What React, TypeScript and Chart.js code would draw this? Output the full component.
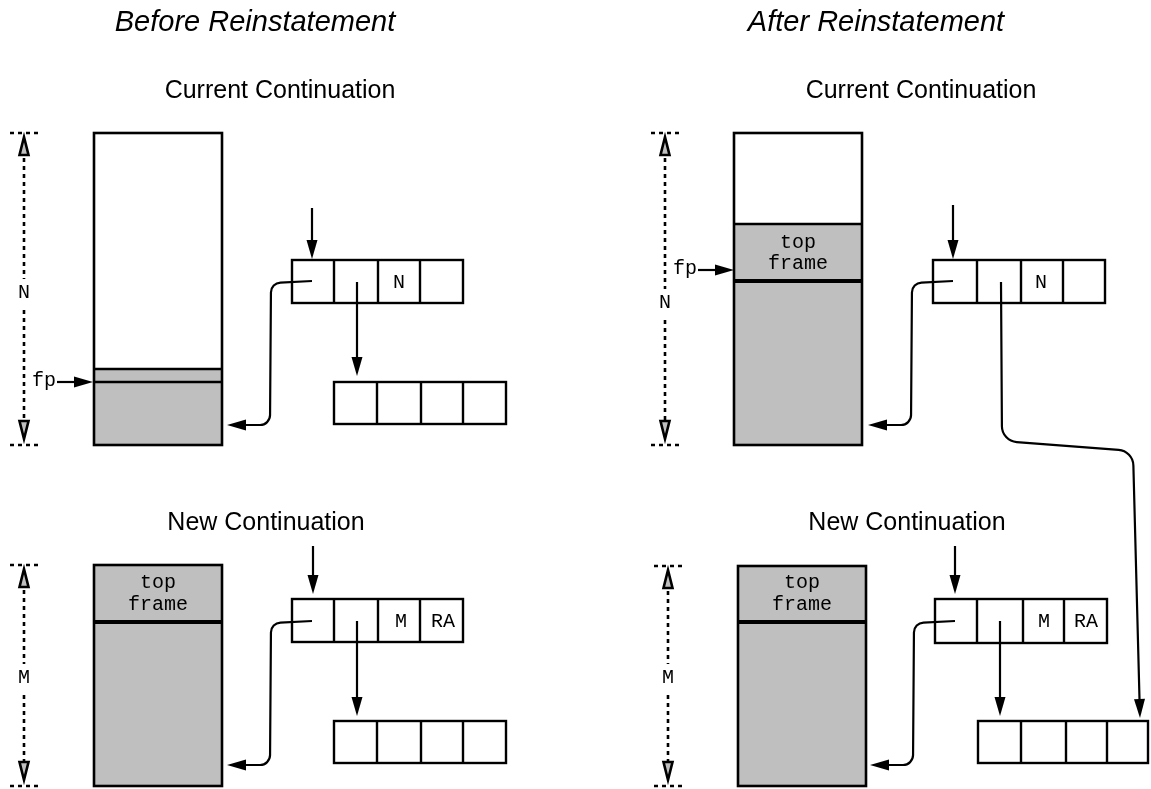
import React, { useEffect, useRef } from "react";
import { Chart, registerables } from "chart.js";

Chart.register(...registerables);

const W = 1151;
const H = 789;

// ---- data (diagram coordinates in a 0..W / 0..H value space) ----
const titles = [
  { text: "Before Reinstatement", x: 255, y: 23 },
  { text: "After Reinstatement", x: 876, y: 23 },
];
const headings = [
  { text: "Current Continuation", x: 280, y: 91 },
  { text: "Current Continuation", x: 921, y: 91 },
  { text: "New Continuation", x: 266, y: 523 },
  { text: "New Continuation", x: 907, y: 523 },
];
const stacks = [
  { x0: 94, x1: 222, y0: 133, y1: 445, gray: 369, sep: 382, sepW: 2 },
  { x0: 734, x1: 862, y0: 133, y1: 445, gray: 224, sep: 281, sepW: 4 },
  { x0: 94, x1: 222, y0: 565, y1: 786, gray: 565, sep: 622, sepW: 4 },
  { x0: 738, x1: 866, y0: 566, y1: 786, gray: 566, sep: 622, sepW: 4 },
];
const frameLabels = [
  { x: 798, y1: 243, y2: 264 },
  { x: 158, y1: 583, y2: 605 },
  { x: 802, y1: 583, y2: 605 },
];
const records = [
  { xs: [292, 334, 378, 420, 463], y0: 260, y1: 303 },
  { xs: [334, 377, 421, 463, 506], y0: 382, y1: 424 },
  { xs: [933, 977, 1021, 1063, 1105], y0: 260, y1: 303 },
  { xs: [292, 334, 378, 420, 463], y0: 599, y1: 642 },
  { xs: [334, 377, 421, 463, 506], y0: 721, y1: 763 },
  { xs: [935, 977, 1023, 1064, 1107], y0: 599, y1: 643 },
  { xs: [978, 1021, 1066, 1107, 1148], y0: 721, y1: 763 },
];
const cellLabels = [
  { t: "N", x: 399, y: 283 },
  { t: "N", x: 1041, y: 283 },
  { t: "M", x: 401, y: 622 },
  { t: "RA", x: 443, y: 622 },
  { t: "M", x: 1044, y: 622 },
  { t: "RA", x: 1086, y: 622 },
];
// polylines ending with an arrow head at the last point
const arrows: number[][][] = [
  // entry arrows
  [[312, 208], [312, 259]],
  [[953, 205], [953, 259]],
  [[313, 546], [313, 594]],
  [[955, 546], [955, 594]],
  // cell-2 pointers
  [[357, 282], [357, 376]],
  [[357, 621], [357, 716]],
  [[1000, 621], [1000, 716]],
  // links back to stacks
  [[312, 281], [271, 283], [270, 425], [227, 425]],
  [[953, 281], [912, 283], [911, 425], [868, 425]],
  [[312, 621], [271, 623], [270, 765], [227, 765]],
  [[955, 621], [914, 623], [913, 765], [870, 765]],
  // long pointer into the new continuation
  [[1001, 282], [1002, 441], [1133, 451], [1140, 718]],
  // fp arrows
  [[57, 382], [93, 382]],
  [[698, 270], [734, 270]],
];
const fpLabels = [
  { x: 44, y: 382 },
  { x: 685, y: 270 },
];
const dims = [
  { x: 24, y0: 133, y1: 445, label: "N", ly: 293 },
  { x: 665, y0: 133, y1: 445, label: "N", ly: 303 },
  { x: 24, y0: 565, y1: 786, label: "M", ly: 678 },
  { x: 668, y0: 566, y1: 786, label: "M", ly: 678 },
];

const SANS = '"Liberation Sans", Arial, sans-serif';
const MONO = '"Liberation Mono", "Courier New", monospace';
const GRAY = "#bfbfbf";

const diagramPlugin = {
  id: "diagram",
  afterDraw(chart: any) {
    const ctx: CanvasRenderingContext2D = chart.ctx;
    const xs = chart.scales.x;
    const ys = chart.scales.y;
    const px = (v: number) => xs.getPixelForValue(v);
    const py = (v: number) => ys.getPixelForValue(v);
    ctx.save();
    ctx.lineCap = "butt";
    ctx.lineJoin = "miter";

    // titles
    ctx.fillStyle = "#000";
    ctx.textAlign = "center";
    ctx.textBaseline = "middle";
    ctx.font = `italic 29px ${SANS}`;
    titles.forEach((t) => ctx.fillText(t.text, px(t.x), py(t.y)));
    ctx.font = `25px ${SANS}`;
    headings.forEach((t) => ctx.fillText(t.text, px(t.x), py(t.y)));

    // stacks
    stacks.forEach((s) => {
      const x0 = px(s.x0), x1 = px(s.x1), y0 = py(s.y0), y1 = py(s.y1);
      ctx.fillStyle = "#fff";
      ctx.fillRect(x0, y0, x1 - x0, y1 - y0);
      ctx.fillStyle = GRAY;
      ctx.fillRect(x0, py(s.gray), x1 - x0, y1 - py(s.gray));
      ctx.strokeStyle = "#000";
      ctx.lineWidth = 2.4;
      if (s.gray > s.y0) {
        ctx.beginPath();
        ctx.moveTo(x0, py(s.gray));
        ctx.lineTo(x1, py(s.gray));
        ctx.stroke();
      }
      ctx.lineWidth = s.sepW === 2 ? 2.4 : s.sepW;
      ctx.beginPath();
      ctx.moveTo(x0, py(s.sep));
      ctx.lineTo(x1, py(s.sep));
      ctx.stroke();
      ctx.lineWidth = 2.6;
      ctx.strokeRect(x0, y0, x1 - x0, y1 - y0);
    });

    ctx.fillStyle = "#000";
    ctx.font = `20px ${MONO}`;
    frameLabels.forEach((f) => {
      ctx.fillText("top", px(f.x), py(f.y1));
      ctx.fillText("frame", px(f.x), py(f.y2));
    });

    // records
    ctx.lineWidth = 2.4;
    ctx.strokeStyle = "#000";
    records.forEach((r) => {
      const y0 = py(r.y0), y1 = py(r.y1);
      const xa = px(r.xs[0]), xb = px(r.xs[r.xs.length - 1]);
      ctx.fillStyle = "#fff";
      ctx.fillRect(xa, y0, xb - xa, y1 - y0);
      ctx.strokeRect(xa, y0, xb - xa, y1 - y0);
      for (let i = 1; i < r.xs.length - 1; i++) {
        ctx.beginPath();
        ctx.moveTo(px(r.xs[i]), y0);
        ctx.lineTo(px(r.xs[i]), y1);
        ctx.stroke();
      }
    });
    ctx.fillStyle = "#000";
    ctx.font = `20px ${MONO}`;
    cellLabels.forEach((c) => ctx.fillText(c.t, px(c.x), py(c.y)));

    // arrows
    const AL = 19, AW = 5.5;
    arrows.forEach((pts) => {
      const P = pts.map((p) => [px(p[0]), py(p[1])]);
      const n = P.length;
      const tip = P[n - 1];
      const prev = P[n - 2];
      const dx = tip[0] - prev[0], dy = tip[1] - prev[1];
      const len = Math.hypot(dx, dy);
      const ux = dx / len, uy = dy / len;
      const base = [tip[0] - ux * AL, tip[1] - uy * AL];
      const R = n > 3 && P[0][0] > 990 && P[0][0] < 1010 ? 16 : 10;
      ctx.strokeStyle = "#000";
      ctx.lineWidth = 2.2;
      ctx.beginPath();
      ctx.moveTo(P[0][0], P[0][1]);
      for (let i = 1; i < n - 1; i++) {
        const nx = i + 1 === n - 1 ? base[0] : P[i + 1][0];
        const ny = i + 1 === n - 1 ? base[1] : P[i + 1][1];
        ctx.arcTo(P[i][0], P[i][1], nx, ny, R);
      }
      ctx.lineTo(base[0] + ux * 2, base[1] + uy * 2);
      ctx.stroke();
      ctx.fillStyle = "#000";
      ctx.beginPath();
      ctx.moveTo(tip[0], tip[1]);
      ctx.lineTo(base[0] - uy * AW, base[1] + ux * AW);
      ctx.lineTo(base[0] + uy * AW, base[1] - ux * AW);
      ctx.closePath();
      ctx.fill();
    });

    ctx.fillStyle = "#000";
    ctx.font = `20px ${MONO}`;
    fpLabels.forEach((f) => ctx.fillText("fp", px(f.x), py(f.y) - 1));

    // dimension lines
    dims.forEach((d) => {
      const x = px(d.x), y0 = py(d.y0), y1 = py(d.y1), ly = py(d.ly);
      ctx.strokeStyle = "#000";
      ctx.lineWidth = 2.4;
      ctx.setLineDash([4, 4]);
      ctx.beginPath();
      ctx.moveTo(x - 14, y0);
      ctx.lineTo(x + 16, y0);
      ctx.moveTo(x - 14, y1);
      ctx.lineTo(x + 16, y1);
      ctx.stroke();
      ctx.lineWidth = 2.6;
      ctx.setLineDash([4, 4]);
      ctx.beginPath();
      ctx.moveTo(x, y0 + 25);
      ctx.lineTo(x, ly - 14);
      ctx.moveTo(x, ly + 17);
      ctx.lineTo(x, y1 - 25);
      ctx.stroke();
      ctx.setLineDash([]);
      // hollow arrow heads
      const heads = [
        [y0 + 4, y0 + 22],
        [y1 - 6, y1 - 24],
      ];
      heads.forEach(([t, b]) => {
        ctx.beginPath();
        ctx.moveTo(x, t);
        ctx.lineTo(x - 4.5, b);
        ctx.lineTo(x + 4.5, b);
        ctx.closePath();
        ctx.fillStyle = GRAY;
        ctx.fill();
        ctx.lineWidth = 2.6;
        ctx.stroke();
      });
      ctx.fillStyle = "#000";
      ctx.font = `20px ${MONO}`;
      ctx.fillText(d.label, x, ly);
    });

    ctx.restore();
  },
};

const bgPlugin = {
  id: "bg",
  beforeDraw(chart: any) {
    const ctx = chart.ctx;
    ctx.save();
    ctx.fillStyle = "#fff";
    ctx.fillRect(0, 0, chart.width, chart.height);
    ctx.restore();
  },
};

export default function App() {
  const ref = useRef<HTMLCanvasElement | null>(null);
  useEffect(() => {
    if (!ref.current) return;
    const chart = new Chart(ref.current, {
      type: "scatter",
      data: { datasets: [{ data: [], pointRadius: 0 }] },
      options: {
        animation: false,
        responsive: false,
        devicePixelRatio: 1,
        layout: { padding: 0 },
        plugins: { legend: { display: false }, tooltip: { enabled: false } },
        scales: {
          x: { type: "linear", min: 0, max: W, display: false },
          y: { type: "linear", min: 0, max: H, reverse: true, display: false },
        },
      },
      plugins: [bgPlugin, diagramPlugin],
    } as any);
    return () => chart.destroy();
  }, []);
  return (
    <div style={{ position: "absolute", left: 0, top: 0, width: W, height: H, background: "#fff" }}>
      <canvas ref={ref} width={W} height={H} style={{ display: "block" }} />
    </div>
  );
}
